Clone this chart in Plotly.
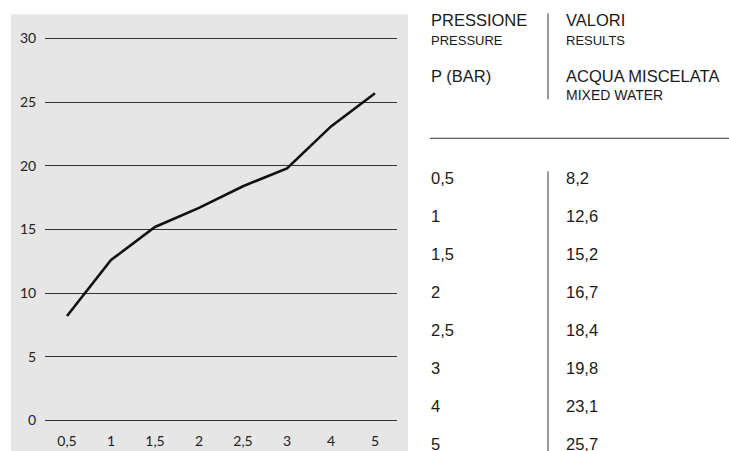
import plotly.graph_objects as go

# ---- data ----
pressure_labels = ["0,5", "1", "1,5", "2", "2,5", "3", "4", "5"]
mixed_water = [8.2, 12.6, 15.2, 16.7, 18.4, 19.8, 23.1, 25.7]
y_ticks = [0, 5, 10, 15, 20, 25, 30]

header_left = ("PRESSIONE", "PRESSURE", "P (BAR)")
header_right = ("VALORI", "RESULTS", "ACQUA MISCELATA", "MIXED WATER")

# ---- layout geometry (pixels) ----
W, H = 729, 451
L, R = 45, 397
PAD_UNITS = 0.12                 # y-range padding so edge grid lines are kept
UNIT = (420.0 - 38.3) / 30.0     # px per y unit
T = 38.3 - PAD_UNITS * UNIT
B = 420.0 + PAD_UNITS * UNIT


def px(x):
    return (x - L) / (R - L)


def py(y):
    return (B - y) / (B - T)


def fmt(v):
    return ("%.1f" % v).replace(".", ",")


fig = go.Figure()
fig.add_trace(go.Scatter(
    x=pressure_labels, y=mixed_water, mode="lines",
    line=dict(color="#111111", width=2.6), hoverinfo="skip",
))

LINE = "#333333"
TEXT = "#1a1a1a"
TFONT = "Liberation Sans, Arial, sans-serif"
BIG, SMALL = 16.5, 13

shapes = [
    # grey chart panel
    dict(type="rect", xref="paper", yref="paper", x0=px(11), x1=px(408),
         y0=py(14), y1=py(452), fillcolor="#e6e6e6", line=dict(width=0), layer="below"),
    # table lines
    dict(type="line", xref="paper", yref="paper", x0=px(548), x1=px(548),
         y0=py(13), y1=py(99), line=dict(color=LINE, width=1)),
    dict(type="line", xref="paper", yref="paper", x0=px(430), x1=px(730),
         y0=py(138), y1=py(138), line=dict(color=LINE, width=1)),
    dict(type="line", xref="paper", yref="paper", x0=px(548), x1=px(548),
         y0=py(171), y1=py(452), line=dict(color=LINE, width=1)),
]

ann = []


def add_text(text, x, y, size):
    ann.append(dict(text=text, x=px(x), y=py(y), xref="paper", yref="paper",
                    xanchor="left", yanchor="middle", showarrow=False,
                    font=dict(family=TFONT, size=size, color=TEXT)))


add_text(header_left[0], 429, 20, BIG)
add_text(header_left[1], 429, 40, SMALL)
add_text(header_left[2], 429, 76, BIG)
add_text(header_right[0], 564, 20, BIG)
add_text(header_right[1], 564, 40, SMALL)
add_text(header_right[2], 564, 76, BIG)
add_text(header_right[3], 564, 94.5, 14)

for i, (p, v) in enumerate(zip(pressure_labels, mixed_water)):
    yy = 178 + 38.0 * i
    add_text(p, 429, yy, BIG)
    add_text(fmt(v), 564, yy, BIG)

fig.update_layout(
    width=W, height=H,
    margin=dict(l=L, r=W - R, t=T, b=H - B, pad=0),
    paper_bgcolor="white",
    plot_bgcolor="rgba(0,0,0,0)",
    showlegend=False,
    shapes=shapes,
    annotations=ann,
    xaxis=dict(type="category", range=[-0.5, 7.5], showgrid=False, zeroline=False,
               showline=False, ticks="outside", ticklen=6, tickcolor="rgba(0,0,0,0)",
               tickfont=dict(family="Lato, sans-serif", size=14, color="#222222"),
               fixedrange=True, automargin=False),
    yaxis=dict(range=[-PAD_UNITS, 30 + PAD_UNITS], tickvals=y_ticks,
               ticktext=[str(t) for t in y_ticks],
               showgrid=True, gridcolor=LINE, gridwidth=1.2,
               zeroline=True, zerolinecolor=LINE, zerolinewidth=1.2,
               showline=False, ticks="outside", ticklen=5, tickcolor="rgba(0,0,0,0)",
               tickfont=dict(family="Lato, sans-serif", size=14, color="#222222"),
               fixedrange=True, automargin=False),
)

fig.write_html(
    "out.html",
    config={"displayModeBar": False},
    post_script="document.body.style.margin='0';document.body.style.overflow='hidden';",
)
